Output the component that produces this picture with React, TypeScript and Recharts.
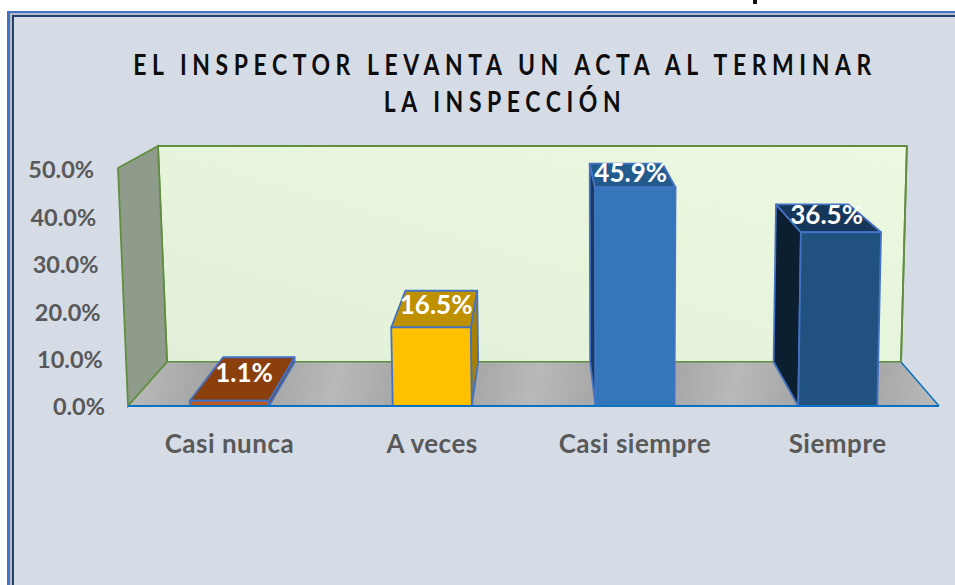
import React from "react";
import { BarChart, Bar, XAxis, YAxis, LabelList, Customized } from "recharts";

const categories = ["Casi nunca", "A veces", "Casi siempre", "Siempre"];
const percentages = [1.1, 16.5, 45.9, 36.5];
const yTicks = [0, 10, 20, 30, 40, 50];
const titleLines = ["EL INSPECTOR LEVANTA UN ACTA AL TERMINAR", "LA INSPECCIÓN"];
const faceColors = ["#c0591c", "#ffc000", "#3476ba", "#21527f"];
const topColors = ["#8b3f0c", "#bf9000", "#225a8c", "#15375a"];
const sideColors = ["#7a3a10", "#a88000", "#183a5c", "#0c1f30"];

const rows = categories.map((name, i) => ({ name, value: percentages[i] }));

const W = 955;
const H = 585;
const PLOT_LEFT = 128;
const PLOT_RIGHT = 939;
const PLOT_TOP = 168;
const PLOT_BOTTOM = 406;
const FONT = "Lato, 'Open Sans', sans-serif";

// Fake 3D: lean of the front plane, and depth projection to the back plane.
const lean = (x: number, h: number) => x + (x - 620) * 0.0000854 * h;
const back = (x: number, y: number) => [539 + (x - 539) * 0.905, -70 + (y + 70) * 0.9076];
const pts = (list: number[][]) => list.map((p) => p.join(",")).join(" ");

function Walls() {
  const hFull = PLOT_BOTTOM - PLOT_TOP;
  const fl = [PLOT_LEFT, PLOT_BOTTOM];
  const fr = [PLOT_RIGHT, PLOT_BOTTOM];
  const flt = [lean(PLOT_LEFT, hFull), PLOT_TOP];
  const bl = back(fl[0], fl[1]);
  const br = back(fr[0], fr[1]);
  const blt = back(flt[0], flt[1]);
  const brt = back(lean(PLOT_RIGHT, hFull), PLOT_TOP);
  const titleX = 505;
  return (
    <g>
      <defs>
        <linearGradient id="floorBands" gradientUnits="userSpaceOnUse" x1="140" y1="362" x2="330" y2="406" spreadMethod="repeat">
          <stop offset="0" stopColor="#b9b9b9" />
          <stop offset="0.5" stopColor="#9c9c9c" />
          <stop offset="1" stopColor="#b9b9b9" />
        </linearGradient>
        <linearGradient id="wallFill" x1="0" y1="1" x2="1" y2="0">
          <stop offset="0" stopColor="#e3f0d9" />
          <stop offset="1" stopColor="#ecf9e0" />
        </linearGradient>
      </defs>
      <polygon points={pts([bl, blt, brt, br])} fill="url(#wallFill)" stroke="#5f8f3f" strokeWidth={1.8} />
      <polygon points={pts([fl, flt, blt, bl])} fill="#8f9b8b" stroke="#5f8f3f" strokeWidth={1.8} />
      <polygon points={pts([fl, bl, br, fr])} fill="url(#floorBands)" />
      <line x1={fl[0]} y1={fl[1]} x2={bl[0]} y2={bl[1]} stroke="#5f8f3f" strokeWidth={1.8} />
      <line x1={bl[0]} y1={bl[1]} x2={br[0]} y2={br[1]} stroke="#5f8f3f" strokeWidth={1} />
      <line x1={fr[0]} y1={fr[1]} x2={br[0]} y2={br[1]} stroke="#0a70c0" strokeWidth={1.5} />
      <line x1={br[0]} y1={br[1]} x2={brt[0]} y2={brt[1]} stroke="#5f8f3f" strokeWidth={1.8} />
      {titleLines.map((line, i) => (
        <text
          key={line}
          transform={`translate(${titleX} ${75 + i * 37}) scale(0.82 1)`}
          textAnchor="middle"
          fontFamily={FONT}
          fontWeight={700}
          fontSize={28}
          letterSpacing={6.8}
          fill="#0d0d0d"
        >
          {line}
        </text>
      ))}
    </g>
  );
}

function Bar3D(props: any) {
  const { x, y, width, height, index } = props;
  const bottom = y + height;
  const l0 = [x, bottom];
  const r0 = [x + width, bottom];
  const l1 = [lean(x, height), y];
  const r1 = [lean(x + width, height), y];
  const bl0 = back(l0[0], l0[1]);
  const br0 = back(r0[0], r0[1]);
  const bl1 = back(l1[0], l1[1]);
  const br1 = back(r1[0], r1[1]);
  const side = x + width / 2 > 539 ? [l0, l1, bl1, bl0] : [r0, r1, br1, br0];
  return (
    <g stroke="#4472c4" strokeWidth={1.8} strokeLinejoin="round">
      <polygon points={pts(side)} fill={sideColors[index]} />
      <polygon points={pts([l1, r1, br1, bl1])} fill={topColors[index]} />
      <polygon points={pts([l0, l1, r1, r0])} fill={faceColors[index]} />
    </g>
  );
}

function TopLabel(props: any) {
  const { x, y, width, height, value } = props;
  const cx = lean(x + width / 2, height);
  const [bx, by] = back(cx, y);
  const lx = (cx + bx) / 2;
  const ly = y + (by - y) * 0.65;
  return (
    <text x={lx} y={ly} textAnchor="middle" dominantBaseline="central" fontFamily={FONT} fontWeight={700} fontSize={26} fill="#ffffff">
      {Number(value).toFixed(1)}%
    </text>
  );
}

function YTick(props: any) {
  const { y, payload } = props;
  const rise = PLOT_BOTTOM - y;
  return (
    <text x={105 - rise * 0.046} y={y + (rise > 0 ? 1 : 0)} textAnchor="end" dominantBaseline="central" fontFamily={FONT} fontWeight={700} fontSize={23.5} fill="#595959">
      {Number(payload.value).toFixed(1)}%
    </text>
  );
}

function XTick(props: any) {
  const { x, payload } = props;
  return (
    <text x={x} y={443} textAnchor="middle" dominantBaseline="central" fontFamily={FONT} fontWeight={700} fontSize={26} letterSpacing={0.5} fill="#595959">
      {payload.value}
    </text>
  );
}

export default function App() {
  const band = (left: number, top: number, color: string) => (
    <div style={{ position: "absolute", left, top, width: W, height: H, background: color }} />
  );
  return (
    <div style={{ position: "absolute", left: 0, top: 0, width: W, height: H, overflow: "hidden", background: "#ffffff" }}>
      <div style={{ position: "absolute", left: 753, top: -1, width: 4, height: 5, background: "#111111" }} />
      {band(7, 11, "#4472c4")}
      {band(10, 13, "#b4bcc8")}
      {band(12, 15, "#2a3f6b")}
      {band(14, 17, "#d6dce5")}
      <div style={{ position: "absolute", left: 0, top: 0 }}>
        <BarChart width={W} height={H} data={rows} margin={{ top: PLOT_TOP, right: W - PLOT_RIGHT, bottom: 0, left: 0 }}>
          <Customized component={Walls} />
          <XAxis
            dataKey="name"
            height={H - PLOT_BOTTOM}
            axisLine={{ stroke: "#0a70c0", strokeWidth: 2 }}
            tickLine={false}
            tick={<XTick />}
            interval={0}
          />
          <YAxis width={PLOT_LEFT} domain={[0, 50]} ticks={yTicks} axisLine={false} tickLine={false} tick={<YTick />} />
          <Bar dataKey="value" barSize={79} shape={<Bar3D />} isAnimationActive={false}>
            <LabelList dataKey="value" content={<TopLabel />} />
          </Bar>
        </BarChart>
      </div>
    </div>
  );
}
